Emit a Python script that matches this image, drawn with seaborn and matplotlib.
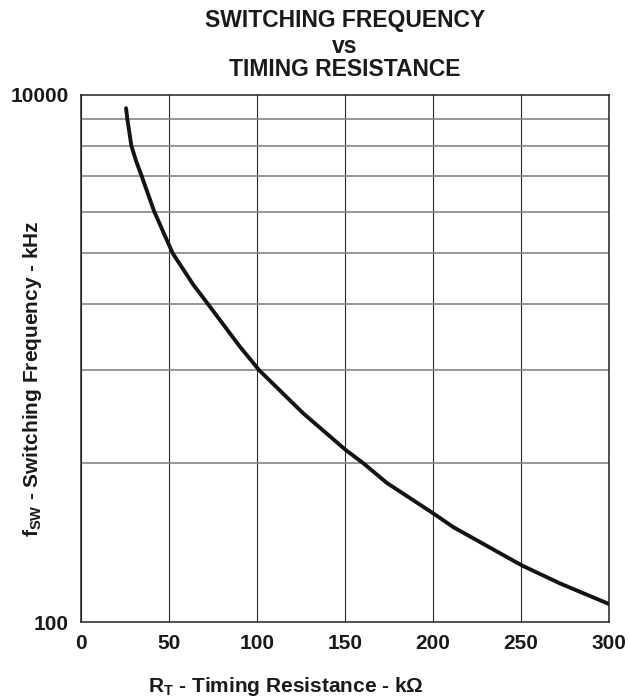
import matplotlib
matplotlib.use("Agg")
import pandas as pd
import matplotlib.pyplot as plt
import seaborn as sns
from matplotlib.ticker import FixedLocator, NullFormatter

# values (y read against the printed 100 / 10000 labels)
rt_kohm = [25.6, 26.3, 28.6, 31.3, 34.5, 41.6, 52.1, 63.8, 72.3, 90.3, 101.3, 126.3,
           150.4, 160.4, 173.7, 200.2, 211.5, 250.4, 272.2, 300]
fsw_khz = [8870, 8100, 6400, 5600, 4900, 3600, 2500, 1900, 1600, 1106, 900, 618,
           449, 400, 337, 258, 229, 164, 140, 117]

x_ticks = [0, 50, 100, 150, 200, 250, 300]
y_ticks = [100, 10000]
y_tick_labels = ["100", "10000"]
# horizontal grid of the original sheet (one-decade style spacing on the 100..10000 scale)
y_grid = [400, 900, 1600, 2500, 3600, 4900, 6400, 8100]

sns.set_style("white")
plt.rcParams["font.family"] = ["Liberation Sans", "DejaVu Sans"]
plt.rcParams["font.weight"] = "bold"
plt.rcParams["mathtext.fontset"] = "custom"
plt.rcParams["mathtext.rm"] = "Liberation Sans:bold"
plt.rcParams["mathtext.bf"] = "Liberation Sans:bold"
plt.rcParams["mathtext.default"] = "rm"

W, H = 629, 700
fig = plt.figure(figsize=(W / 100, H / 100), dpi=100)
ax = fig.add_axes([81 / W, (H - 622) / H, (609 - 81) / W, (622 - 94.5) / H])

curve = pd.DataFrame({"rt": rt_kohm, "fsw": fsw_khz})
sns.lineplot(data=curve, x="rt", y="fsw", ax=ax, color="#141414", linewidth=2.8,
             sort=False, solid_joinstyle="round", solid_capstyle="round")

ax.set_yscale("log")
ax.set_xlim(0, 300)
ax.set_ylim(100, 10000)
ax.set_xticks(x_ticks)
ax.set_yticks(y_ticks)
ax.set_yticklabels(y_tick_labels)
ax.yaxis.set_minor_locator(FixedLocator(y_grid))
ax.yaxis.set_minor_formatter(NullFormatter())
ax.tick_params(which="both", length=0, labelsize=15, colors="#1a1a1a")
ax.tick_params(axis="x", pad=8.5)
ax.tick_params(axis="y", pad=9)
for lab in ax.get_xticklabels() + ax.get_yticklabels():
    lab.set_fontweight("bold")

ax.grid(axis="x", which="major", color="#2a2a2a", linewidth=0.8)
ax.grid(axis="y", which="major", visible=False)
ax.grid(axis="y", which="minor", color="#858585", linewidth=1.2)
for s in ax.spines.values():
    s.set_color("#222222")
    s.set_linewidth(1.1)

ax.set_xlabel("")
ax.set_ylabel("")

# title block
cx = 345 / W
fig.text(cx, 1 - 27 / H, "SWITCHING FREQUENCY", ha="center", va="baseline", fontsize=16.5, color="#1a1a1a")
fig.text(cx, 1 - 53 / H, "vs", ha="center", va="baseline", fontsize=16.5, color="#1a1a1a")
fig.text(cx, 1 - 76 / H, "TIMING RESISTANCE", ha="center", va="baseline", fontsize=16.5, color="#1a1a1a")

fig.text(286 / W, 1 - 686 / H, r"R$_\mathrm{T}$ - Timing Resistance - kΩ",
         ha="center", va="center", fontsize=15, color="#1a1a1a")
fig.text(33 / W, 1 - 379 / H, r"f$_\mathrm{SW}$ - Switching Frequency - kHz",
         rotation=90, ha="center", va="center", fontsize=15, color="#1a1a1a")

fig.savefig("out.png", dpi=100)
